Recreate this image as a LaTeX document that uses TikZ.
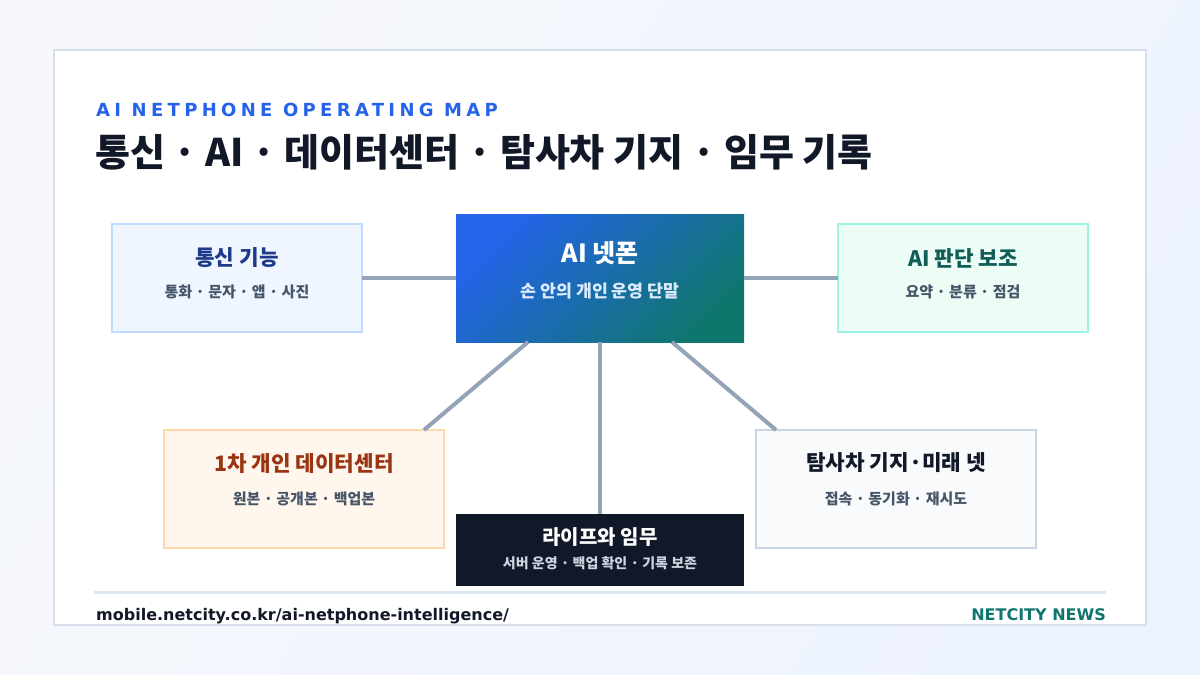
\documentclass[tikz,border=0pt]{standalone}
\usepackage{fontspec}
\setmainfont{DejaVu Sans}
\newfontfamily\kr{Noto Sans CJK KR}
\newfontfamily\spaced{DejaVu Sans}[LetterSpace=24]
\usetikzlibrary{calc}
\definecolor{bgA}{HTML}{F6F8FC}
\definecolor{bgB}{HTML}{EDF3FD}
\definecolor{cardline}{HTML}{D6DFEB}
\definecolor{accent}{HTML}{2563EB}
\definecolor{ink}{HTML}{111827}
\definecolor{slate}{HTML}{475569}
\definecolor{conn}{HTML}{94A3B8}
\definecolor{hubA}{HTML}{2563EB}
\definecolor{hubB}{HTML}{0F766E}
\definecolor{hubsub}{HTML}{DBEAFE}
\definecolor{commfill}{HTML}{EFF6FF}
\definecolor{commline}{HTML}{BFDBFE}
\definecolor{commtext}{HTML}{1E3A8A}
\definecolor{aifill}{HTML}{ECFDF5}
\definecolor{ailine}{HTML}{99F6E4}
\definecolor{aitext}{HTML}{115E59}
\definecolor{dcfill}{HTML}{FFF7ED}
\definecolor{dcline}{HTML}{FED7AA}
\definecolor{dctext}{HTML}{9A3412}
\definecolor{rvfill}{HTML}{F8FAFC}
\definecolor{rvline}{HTML}{CBD5E1}
\definecolor{lifesub}{HTML}{CBD5E1}
\definecolor{footline}{HTML}{DCE5F0}
\definecolor{brand}{HTML}{0F766E}
\tikzset{
  box/.style={rectangle, line width=2pt, anchor=north west, inner sep=0pt, outer sep=0pt},
  boxtitle/.style={font=\kr\bfseries\fontsize{21.3}{25}\selectfont, inner sep=0pt, anchor=center},
  boxsub/.style={font=\kr\bfseries\fontsize{15}{18}\selectfont, text=slate, inner sep=0pt, anchor=center},
  link/.style={draw=conn, line width=4pt}
}
\begin{document}
\begin{tikzpicture}[x=1pt,y=-1pt]
\useasboundingbox (0,0) rectangle (1200,675);
\shade[left color=bgA, right color=bgB, shading angle=60] (0,0) rectangle (1200,675);
\draw[draw=cardline, fill=white, line width=2pt] (54,50) rectangle (1146,625);

\node[font=\spaced\bfseries\fontsize{18}{22}\selectfont, text=accent, anchor=base west, inner sep=0pt] (kicker) at (96,116) {AI NETPHONE OPERATING MAP};
\node[font=\kr\bfseries\fontsize{38}{44}\selectfont, text=ink, anchor=west, inner sep=0pt] (title) at (95,152) {통신 · AI · 데이터센터 · 탐사차 기지 · 임무 기록};

% boxes
\node[box, fill=commfill, draw=commline, minimum width=250pt, minimum height=108pt] (comm) at (112,224) {};
\node[box, left color=hubA, right color=hubB, shading angle=45, minimum width=288pt, minimum height=128pt] (hub) at (456,214) {};
\node[box, fill=aifill, draw=ailine, minimum width=250pt, minimum height=108pt] (ai) at (838,224) {};
\node[box, fill=dcfill, draw=dcline, minimum width=280pt, minimum height=118pt] (dc) at (164,430) {};
\node[box, fill=ink, minimum width=288pt, minimum height=72pt] (life) at (456,514) {};
\node[box, fill=rvfill, draw=rvline, minimum width=280pt, minimum height=118pt] (rv) at (756,430) {};

% connectors
\draw[link] (comm.east) -- (hub.west);
\draw[link] (hub.east) -- (ai.west);
\coordinate (hubL) at ($(hub.south west)!0.25!(hub.south east)$);
\coordinate (hubR) at ($(hub.south west)!0.75!(hub.south east)$);
\coordinate (dcT) at ($(dc.north east)+(-20,0)$);
\coordinate (rvT) at ($(rv.north west)+(20,0)$);
\draw[link] (hubL) -- (dcT);
\draw[link] (hub.south) -- (life.north);
\draw[link] (hubR) -- (rvT);

% texts
\node[boxtitle, text=commtext] (commT) at ($(comm.north)+(0,34)$) {통신 기능};
\node[boxsub] (commS) at ($(comm.north)+(0,68)$) {통화 · 문자 · 앱 · 사진};

\node[boxtitle, text=white, font=\kr\bfseries\fontsize{25}{29}\selectfont] (hubT) at ($(hub.north)+(0,39)$) {AI 넷폰};
\node[boxsub, text=hubsub, font=\kr\bfseries\fontsize{17.3}{20}\selectfont] (hubS) at ($(hub.north)+(0,77)$) {손 안의 개인 운영 단말};

\node[boxtitle, text=aitext] (aiT) at ($(ai.north)+(0,34)$) {AI 판단 보조};
\node[boxsub] (aiS) at ($(ai.north)+(0,68)$) {요약 · 분류 · 점검};

\node[boxtitle, text=dctext] (dcT2) at ($(dc.north)+(0,34)$) {1차 개인 데이터센터};
\node[boxsub] (dcS) at ($(dc.north)+(0,69)$) {원본 · 공개본 · 백업본};

\node[boxtitle, text=white, font=\kr\bfseries\fontsize{20}{24}\selectfont] (lifeT) at ($(life.north)+(0,23)$) {라이프와 임무};
\node[boxsub, text=lifesub, font=\kr\bfseries\fontsize{14}{17}\selectfont] (lifeS) at ($(life.north)+(0,49)$) {서버 운영 · 백업 확인 · 기록 보존};

\node[boxtitle, text=ink] (rvT2) at ($(rv.north)+(0,33)$) {탐사차 기지·미래 넷};
\node[boxsub] (rvS) at ($(rv.north)+(0,69)$) {접속 · 동기화 · 재시도};

% footer
\coordinate (fl) at (94,592);
\coordinate (fr) at (1106,592);
\draw[draw=footline, line width=3pt] (fl) -- (fr);
\node[font=\bfseries\fontsize{16}{19}\selectfont, text=ink, anchor=base west, inner sep=0pt] (url) at (96,620) {mobile.netcity.co.kr/ai-netphone-intelligence/};
\node[font=\bfseries\fontsize{16}{19}\selectfont, text=brand, anchor=base east, inner sep=0pt] (brandN) at (1106,620) {NETCITY NEWS};
\end{tikzpicture}
\end{document}
